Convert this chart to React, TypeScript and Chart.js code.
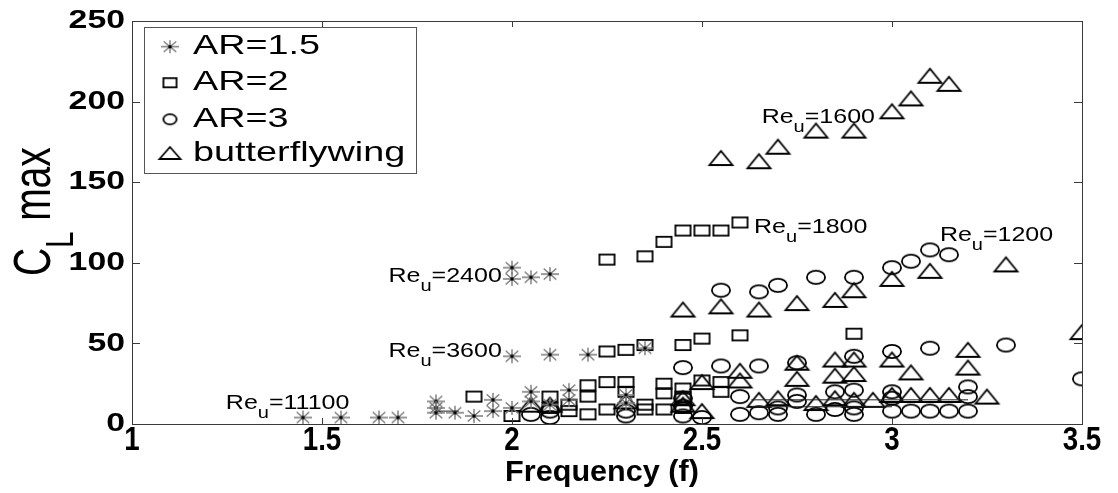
import React, { useEffect, useRef } from "react";
import { Chart, registerables } from "chart.js";
Chart.register(...registerables);

// ---------- data ----------
const seriesNames = ["AR=1.5", "AR=2", "AR=3", "butterflywing"];
const xTicks = [1, 1.5, 2, 2.5, 3, 3.5];
const yTicks = [0, 50, 100, 150, 200, 250];

const ar15X = [1.45, 1.55, 1.65, 1.7, 1.8, 1.8, 1.8, 1.85, 1.9, 1.95, 1.95, 2.0, 2.05, 2.05, 2.1, 2.15, 2.15, 2.3, 2.3, 2.0, 2.0, 2.05, 2.1, 2.0, 2.1, 2.2, 2.35];
const ar15Y = [4, 4, 4, 4, 14, 10, 7, 7, 5, 15, 8, 10, 20, 14, 12, 21, 15, 18, 13, 97, 90, 91, 93, 42, 43, 43, 47];

const ar2X = [2.25, 2.35, 2.4, 2.45, 2.5, 2.55, 2.6, 2.25, 2.3, 2.35, 2.45, 2.5, 2.6, 2.9, 1.9, 2.0, 2.1, 2.1, 2.15, 2.15, 2.2, 2.2, 2.2, 2.25, 2.25, 2.3, 2.3, 2.35, 2.35, 2.4, 2.4, 2.4, 2.45, 2.45, 2.45, 2.55, 2.55, 2.5];
const ar2Y = [102, 104, 113, 120, 120, 120, 125, 45, 46, 49, 49, 53, 55, 56, 17, 5, 17, 10, 12, 8, 24, 17, 6, 26, 9, 26, 20, 12, 9, 25, 19, 9, 22, 17, 10, 26, 20, 27];

const ar3X = [2.55, 2.65, 2.7, 2.8, 2.9, 3.0, 3.05, 3.1, 3.15, 2.45, 2.55, 2.65, 2.75, 2.9, 3.0, 3.1, 3.3, 3.5, 2.05, 2.1, 2.1, 2.3, 2.3, 2.45, 2.45, 2.45, 2.5, 2.6, 2.6, 2.65, 2.7, 2.7, 2.75, 2.75, 2.8, 2.85, 2.85, 2.9, 2.9, 2.9, 3.0, 3.0, 3.0, 3.05, 3.1, 3.15, 3.2, 3.2, 3.2];
const ar3Y = [83, 82, 86, 91, 91, 97, 101, 108, 105, 35, 36, 36, 38, 42, 45, 47, 49, 28, 6, 4, 8, 5, 8, 5, 11, 16, 4, 6, 17, 7, 6, 10, 18, 14, 6, 9, 20, 21, 6, 10, 8, 20, 16, 8, 8, 8, 8, 17, 23];

const bfX = [2.55, 2.65, 2.7, 2.8, 2.9, 3.0, 3.05, 3.1, 3.15, 2.45, 2.55, 2.65, 2.75, 2.85, 2.9, 3.0, 3.1, 3.3, 3.5, 2.05, 2.1, 2.3, 2.45, 2.45, 2.5, 2.5, 2.6, 2.6, 2.65, 2.7, 2.75, 2.75, 2.8, 2.85, 2.85, 2.85, 2.9, 2.9, 2.9, 2.95, 3.0, 3.0, 3.05, 3.05, 3.1, 3.15, 3.2, 3.2, 3.25];
const bfY = [165, 163, 172, 182, 182, 194, 202, 216, 211, 71, 73, 71, 75, 77, 83, 90, 95, 99, 57, 12, 12, 14, 16, 12, 8, 26, 33, 27, 15, 16, 38, 28, 13, 40, 30, 16, 40, 31, 15, 15, 40, 18, 32, 18, 18, 18, 46, 35, 17];

const trendX = [2.63, 3.2, null, 2.63, 3.0, null, 1.8, 1.86];
const trendY = [15, 15, null, 10.7, 10.7, null, 8, 8];

const annNumbers = ["11100", "3600", "2400", "1800", "1600", "1200"];
const annX = [1.247, 1.675, 1.675, 2.637, 2.657, 3.126];
const annY = [12.8, 44.9, 91.4, 121.6, 190, 117];

// ---------- helpers ----------
const FONT = "'Liberation Sans', Arial, sans-serif";
const SX = 1.35;

function makeMarker(kind: string, w: number, h: number): HTMLCanvasElement {
  const pad = 2;
  const c = document.createElement("canvas");
  c.width = w + pad * 2;
  c.height = h + pad * 2;
  const ctx = c.getContext("2d")!;
  ctx.translate(pad, pad);
  ctx.lineWidth = 1.8;
  ctx.strokeStyle = "#000";
  if (kind === "square") {
    ctx.strokeRect(0.9, 0.9, w - 1.8, h - 1.8);
  } else if (kind === "circle") {
    ctx.beginPath();
    ctx.ellipse(w / 2, h / 2, w / 2 - 0.9, h / 2 - 0.9, 0, 0, Math.PI * 2);
    ctx.stroke();
  } else if (kind === "triangle") {
    ctx.beginPath();
    ctx.moveTo(1, h - 1);
    ctx.lineTo(w / 2, 1);
    ctx.lineTo(w - 1, h - 1);
    ctx.closePath();
    ctx.stroke();
  } else {
    ctx.strokeStyle = "#7a7a7a";
    ctx.lineWidth = 1.4;
    ctx.beginPath();
    ctx.moveTo(0, h / 2); ctx.lineTo(w, h / 2);
    ctx.moveTo(w / 2, 0); ctx.lineTo(w / 2, h);
    ctx.moveTo(w * 0.15, h * 0.1); ctx.lineTo(w * 0.85, h * 0.9);
    ctx.moveTo(w * 0.85, h * 0.1); ctx.lineTo(w * 0.15, h * 0.9);
    ctx.stroke();
    ctx.fillStyle = "#000";
    ctx.fillRect(w / 2 - 1.5, h / 2 - 1.5, 3, 3);
  }
  return c;
}

function sText(ctx: CanvasRenderingContext2D, text: string, x: number, y: number, size: number, sx: number, align: CanvasTextAlign, weight = "normal") {
  ctx.save();
  ctx.font = `${weight} ${size}px ${FONT}`;
  ctx.translate(x, y);
  ctx.scale(sx, 1);
  ctx.textAlign = align;
  ctx.textBaseline = "middle";
  ctx.fillStyle = "#000";
  ctx.fillText(text, 0, 0);
  ctx.restore();
}

function measure(ctx: CanvasRenderingContext2D, text: string, size: number, sx: number) {
  ctx.save();
  ctx.font = `${size}px ${FONT}`;
  const w = ctx.measureText(text).width * sx;
  ctx.restore();
  return w;
}

function pts(xs: (number | null)[], ys: (number | null)[]) {
  return xs.map((x, i) => ({ x: x as any, y: ys[i] as any }));
}

export default function App() {
  const ref = useRef<HTMLCanvasElement>(null);

  useEffect(() => {
    const canvas = ref.current!;
    const mStar = makeMarker("star", 18, 14);
    const mSq = makeMarker("square", 17, 12);
    const mCir = makeMarker("circle", 20, 15);
    const mTri = makeMarker("triangle", 25, 16);
    const lStar = makeMarker("star", 18, 13);
    const lSq = makeMarker("square", 15, 11);
    const lCir = makeMarker("circle", 15, 12);
    const lTri = makeMarker("triangle", 23, 14);
    const legendMarkers = [lStar, lSq, lCir, lTri];

    const plugin = {
      id: "matlabLook",
      afterDatasetsDraw(chart: any) {
        const ctx: CanvasRenderingContext2D = chart.ctx;
        const xs = chart.scales.x;
        const ys = chart.scales.y;
        const a = chart.chartArea;
        ctx.save();
        // annotations
        annNumbers.forEach((num, i) => {
          const px = xs.getPixelForValue(annX[i]);
          const py = ys.getPixelForValue(annY[i]);
          let cx = px;
          sText(ctx, "Re", cx, py, 20, 1.25, "left");
          cx += measure(ctx, "Re", 20, 1.25);
          sText(ctx, "u", cx, py + 10, 16, 1.25, "left");
          cx += measure(ctx, "u", 16, 1.25);
          sText(ctx, "=" + num, cx, py, 20, 1.25, "left");
        });
        // box
        ctx.strokeStyle = "#3a3a3a";
        ctx.lineWidth = 1;
        ctx.strokeRect(a.left + 0.5, a.top + 0.5, a.right - a.left, a.bottom - a.top);
        // ticks
        ctx.beginPath();
        xTicks.forEach((v) => {
          const p = Math.round(xs.getPixelForValue(v)) + 0.5;
          ctx.moveTo(p, a.bottom); ctx.lineTo(p, a.bottom - 6);
          ctx.moveTo(p, a.top); ctx.lineTo(p, a.top + 6);
        });
        yTicks.forEach((v) => {
          const p = Math.round(ys.getPixelForValue(v)) + 0.5;
          ctx.moveTo(a.left, p); ctx.lineTo(a.left + 8, p);
          ctx.moveTo(a.right, p); ctx.lineTo(a.right - 8, p);
        });
        ctx.stroke();
        // tick labels
        xTicks.forEach((v) => {
          sText(ctx, String(v), xs.getPixelForValue(v), a.bottom + 17, 33, 0.84, "center", "bold");
        });
        yTicks.forEach((v) => {
          sText(ctx, String(v), a.left - 7, ys.getPixelForValue(v), 26, 1.3, "right", "bold");
        });
        // x title
        sText(ctx, "Frequency (f)", (a.left + a.right) / 2 - 5, 473, 30, 1.02, "center", "bold");
        // y title
        ctx.save();
        ctx.translate(50, 276);
        ctx.rotate(-Math.PI / 2);
        ctx.scale(1, SX);
        ctx.fillStyle = "#000";
        ctx.textBaseline = "alphabetic";
        ctx.textAlign = "left";
        ctx.font = `39px ${FONT}`;
        ctx.fillText("C", 0, 0);
        let off = ctx.measureText("C").width;
        ctx.font = `29px ${FONT}`;
        ctx.fillText("L", off, 17);
        off += ctx.measureText("L").width;
        ctx.font = `39px ${FONT}`;
        ctx.fillText(" max", off, 0);
        ctx.restore();
        // legend
        const lx = 144, ly = 27, lw = 272, lh = 146;
        ctx.fillStyle = "#fff";
        ctx.fillRect(lx, ly, lw, lh);
        ctx.strokeStyle = "#555";
        ctx.strokeRect(lx + 0.5, ly + 0.5, lw, lh);
        const rows = [46.7, 82.7, 119.3, 153];
        seriesNames.forEach((name, i) => {
          const m = legendMarkers[i];
          ctx.drawImage(m, 170 - m.width / 2, rows[i] - m.height / 2);
          sText(ctx, name, 193, rows[i], 28, SX, "left");
        });
        ctx.restore();
      },
    };

    const chart = new Chart(canvas, {
      type: "scatter",
      data: {
        datasets: [
          { label: "trend", data: pts(trendX, trendY), showLine: true, borderColor: "#222", borderWidth: 1, pointRadius: 0, spanGaps: false } as any,
          { label: seriesNames[0], data: pts(ar15X, ar15Y), pointStyle: mStar, pointRadius: 9 },
          { label: seriesNames[1], data: pts(ar2X, ar2Y), pointStyle: mSq, pointRadius: 9 },
          { label: seriesNames[2], data: pts(ar3X, ar3Y), pointStyle: mCir, pointRadius: 9 },
          { label: seriesNames[3], data: pts(bfX, bfY), pointStyle: mTri, pointRadius: 9 },
        ],
      },
      options: {
        responsive: false,
        animation: false,
        layout: { padding: { top: 21, right: 36, left: 0, bottom: 0 } },
        plugins: { legend: { display: false }, tooltip: { enabled: false } },
        scales: {
          x: {
            type: "linear", min: 1, max: 3.5,
            grid: { display: false }, border: { display: false },
            ticks: { display: false },
            afterFit: (s: any) => { s.height = 69; },
          },
          y: {
            type: "linear", min: 0, max: 250,
            grid: { display: false }, border: { display: false },
            ticks: { display: false },
            afterFit: (s: any) => { s.width = 132; },
          },
        },
      } as any,
      plugins: [plugin],
    });
    return () => chart.destroy();
  }, []);

  return (
    <div style={{ position: "absolute", left: 0, top: 0, width: 1118, height: 493, background: "#fff" }}>
      <canvas ref={ref} width={1118} height={493} />
    </div>
  );
}
